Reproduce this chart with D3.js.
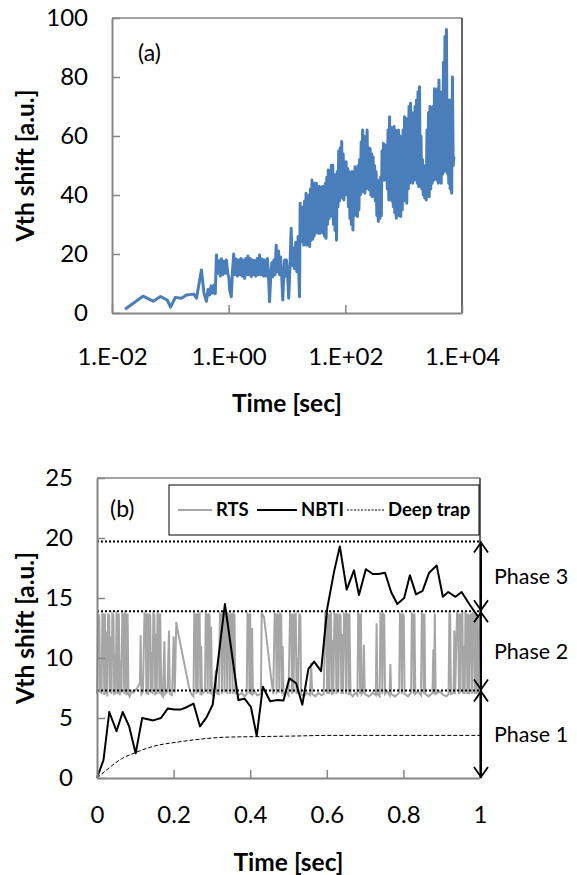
<!DOCTYPE html>
<html>
<head>
<meta charset="utf-8">
<script src="https://cdn.jsdelivr.net/npm/d3@7"></script>
<style>
  html, body { margin: 0; padding: 0; background: #fff; }
  svg { display: block; font-family: Lato, "Open Sans", sans-serif; }
</style>
</head>
<body>
<svg id="chart" width="577" height="875"></svg>
<script>
// ---- panel (a): Vth shift vs log time, [seconds, a.u.]
const stressTrace = [
  [0.0167,1.3],[0.0340,5.7],[0.0508,4.0],[0.0679,5.6],[0.0883,4.4],[0.101,2.0],[0.122,5.3],[0.155,5.0],
  [0.189,6.1],[0.252,6.4],[0.281,5.0],[0.341,14.6],[0.378,6.6],[0.416,4.0],[0.443,8.0],[0.470,6.1],
  [0.500,9.2],[0.526,6.7],[0.560,9.5],[0.590,6.5],
  [0.617,19.7],[0.646,13.5],[0.682,17.7],[0.716,12.5],[0.750,18.4],[0.794,13.0],[0.832,17.5],[0.871,13.5],
  [0.912,18.0],[0.973,13.0],[1.01,12.0],[1.04,7.8],[1.11,5.5],[1.16,14.0],[1.22,20.0],[1.27,13.0],
  [1.35,18.3],[1.41,12.5],[1.48,18.0],[1.54,13.0],[1.62,18.5],[1.70,12.5],[1.78,18.0],[1.88,11.7],
  [1.97,18.5],[2.07,13.0],[2.14,19.3],[2.24,13.0],[2.34,18.5],[2.44,12.3],[2.54,18.0],[2.66,13.0],
  [2.78,17.8],[2.92,12.5],[3.09,18.5],[3.24,13.0],[3.39,19.7],[3.59,13.0],[3.77,18.3],[3.98,12.5],
  [4.17,18.0],[4.41,12.5],[4.62,18.5],[4.84,12.0],[5.02,3.8],[5.25,12.0],[5.50,17.0],[5.71,12.3],
  [5.96,18.0],[6.24,13.0],[6.53,23.0],[6.84,14.0],[7.16,21.0],[7.45,13.0],[7.76,19.0],[8.13,12.0],
  [8.47,4.4],[8.81,13.0],[9.12,18.0],[9.42,12.5],[9.77,18.0],[10.2,13.0],[10.7,5.0],[11.2,15.0],
  [11.8,28.7],[12.3,16.0],[12.9,22.0],[13.4,15.0],[14.1,24.0],[14.7,14.0],[15.5,25.9],[16.0,12.0],
  [16.4,5.5],
  [16.8,37.2],[17.3,24],[17.8,35],[18.3,24.7],[18.9,36],[19.4,23],
  [20.0,38],[20.6,25],[21.2,40.6],[21.8,23],[22.5,38],[23.1,26],[23.8,40],[24.5,22.5],
  [25.2,42],[26.0,24.7],[26.8,45.1],[27.6,25],[28.4,42],[29.2,26],
  [30.1,44],[31.0,27],[31.9,44],[32.9,28],[33.8,42],[34.8,27],[35.9,43],[36.9,27],[38.0,42],[39.2,28],
  [40.3,42.8],[41.5,27],[42.8,43],[44.0,26],[45.4,44],[46.7,25.3],[48.1,46],[49.5,30],
  [51.0,48.5],[52.5,32],[54.1,47],[55.7,33],[57.4,50],[59.1,32.7],
  [60.8,50.2],[62.7,30],[64.5,47],[66.5,28],[68.4,46],[70.5,24.7],[72.6,48],[74.8,36],
  [77.0,55],[79.3,38],[81.7,56],[84.1,40],[86.6,58.1],[89.2,39],[91.9,54],[94.6,38.3],
  [97.5,51],[100,40],[103,51.3],[106,41],[110,49],
  [113,36],[116,48],[120,32],[123,47],[127,30],[131,48],[135,28.1],[139,46],
  [143,33],[147,49.6],[152,34],[156,48],[161,32.7],[166,50],[171,35],[176,52],
  [181,40],[187,58],[192,41],[198,62],[204,42],[210,60],[216,40.6],[223,58],[229,42],[236,62],[243,43],
  [251,56],[258,41.7],[266,55.8],[274,40],[282,54],[290,39.4],[299,53],[308,40],[317,50],[327,38],
  [337,48],[347,33],[357,45.1],[368,31],[379,44],[390,32],[402,46],[414,33],
  [426,55],[439,46],[452,57.5],[466,45],[480,56],[494,47.4],[509,57],
  [524,42],[540,62],[556,38.3],[573,66.5],[590,40],[608,63],[626,38],[644,60],[664,36],
  [684,63.2],[704,34],[725,62],[747,32.1],[770,60],[793,34],
  [816,62],[841,33],[866,60],[892,32.7],[919,58],[946,35],[975,62],
  [1004,38],[1034,66.5],[1065,40],[1097,64],[1130,37.2],[1164,66],[1199,42],
  [1235,70],[1272,44],[1310,71.1],[1349,46],[1390,68],[1431,44],[1474,66],
  [1519,45],[1564,70],[1611,46],[1660,72.2],[1709,44],[1761,75],[1813,42.8],[1868,76.7],[1924,45],[1981,60],
  [2041,42],[2102,52],[2165,40],[2230,49.6],[2297,39],[2366,50],[2437,38.3],
  [2510,62],[2585,40],[2663,68],[2743,39.4],[2825,70],[2910,42],[2997,66],[3087,44],
  [3180,70],[3275,45],[3373,76],[3475,46],[3579,72],
  [3686,45.1],[3797,76],[3911,44],[4028,79],[4149,46],[4274,75],[4402,44],
  [4534,72],[4670,47],[4810,85],[4954,48],[5103,93.7],[5256,50],[5414,96.1],[5576,47.4],
  [5744,72],[5916,44],[6093,72.2],[6276,42],[6465,70],
  [6659,40.6],[6858,80],[7064,50],[7276,53]
];
const topXTicks = [0.01, 1, 100, 10000];
const topXLabels = ["1.E-02", "1.E+00", "1.E+02", "1.E+04"];
const topYTicks = [0, 20, 40, 60, 80, 100];

// ---- panel (b): time [sec], Vth shift [a.u.]
const nbti = [
  [0.000,0.0],[0.017,1.5],[0.032,5.5],[0.051,3.9],[0.067,5.5],[0.084,4.3],[0.101,2.05],[0.118,5.0],
  [0.147,4.8],[0.167,5.0],[0.185,5.8],[0.202,5.7],[0.218,5.7],[0.234,5.9],[0.252,6.2],[0.269,4.3],
  [0.286,5.05],[0.302,6.1],[0.334,14.5],[0.352,10.4],[0.369,6.5],[0.386,6.6],[0.402,5.9],[0.417,3.5],
  [0.433,7.6],[0.452,6.4],[0.471,6.5],[0.487,6.45],[0.502,8.3],[0.520,7.9],[0.536,6.1],[0.552,9.1],
  [0.567,9.7],[0.585,8.9],[0.601,14.1],[0.619,17.2],[0.634,19.3],[0.652,15.7],[0.671,17.3],[0.684,15.25],
  [0.702,17.4],[0.720,17.0],[0.735,17.0],[0.752,17.1],[0.768,15.5],[0.784,14.5],[0.802,15.0],[0.817,16.9],
  [0.833,15.3],[0.850,15.6],[0.867,17.1],[0.887,17.7],[0.903,15.1],[0.917,15.5],[0.936,15.1],[0.952,15.5],
  [0.974,14.4],[0.996,13.4]
];
const deepTrap = [
  [0.000,0.0],[0.030,0.8],[0.064,1.6],[0.099,2.1],[0.151,2.67],[0.212,3.0],[0.273,3.25],[0.334,3.4],
  [0.420,3.45],[0.520,3.5],[0.600,3.55],[0.700,3.55],[0.850,3.55],[1.000,3.55]
];
const rts = [
  [0.000,7.0],[0.003,13.6],[0.006,13.5],[0.008,7.1],[0.010,9.5],[0.012,7.0],[0.014,13.7],[0.017,13.6],
  [0.019,6.9],[0.021,13.7],[0.023,7.0],[0.025,12.2],[0.027,6.8],[0.029,13.7],[0.032,13.5],[0.034,7.1],
  [0.036,11.8],[0.038,7.0],[0.040,13.7],[0.043,13.6],[0.045,6.9],[0.047,10.4],[0.049,7.0],[0.051,13.7],
  [0.053,13.6],[0.055,7.0],[0.057,13.7],[0.060,6.9],[0.062,9.8],[0.064,7.1],[0.066,13.7],[0.069,13.6],
  [0.071,7.0],[0.073,13.7],[0.075,13.6],[0.077,6.9],[0.080,13.7],[0.082,7.0],[0.085,6.8],[0.090,7.2],
  [0.095,7.1],[0.105,7.5],[0.112,7.9],[0.114,11.9],[0.116,7.0],[0.120,7.2],
  [0.124,13.7],[0.127,13.6],[0.129,7.0],[0.131,13.7],[0.134,6.9],[0.136,13.7],[0.139,13.5],[0.141,7.1],
  [0.143,10.5],[0.145,7.0],[0.147,13.7],[0.150,13.6],[0.152,6.9],[0.154,12.0],[0.156,7.0],[0.158,13.7],
  [0.161,13.6],[0.163,7.0],[0.165,13.7],[0.168,7.0],[0.172,6.8],[0.176,11.4],[0.178,7.0],[0.184,7.2],
  [0.188,12.3],[0.190,7.0],[0.196,6.9],[0.200,11.8],[0.203,7.1],[0.207,13.0],[0.210,12.4],[0.225,10.0],
  [0.240,7.6],[0.246,7.0],[0.252,6.8],[0.254,13.7],[0.257,13.6],[0.259,7.0],[0.261,13.7],[0.263,7.1],
  [0.265,13.6],[0.268,13.7],[0.270,6.9],[0.272,11.0],[0.274,7.0],[0.282,7.2],[0.284,13.7],[0.287,13.6],
  [0.289,7.0],[0.291,13.7],[0.294,13.5],[0.296,7.0],[0.298,12.6],[0.300,7.0],[0.305,6.8],[0.310,9.0],
  [0.312,7.1],[0.318,7.0],[0.321,13.7],[0.324,13.6],[0.326,7.0],[0.328,13.7],[0.331,13.6],[0.333,7.1],
  [0.335,13.7],[0.338,13.5],[0.340,7.0],[0.342,13.7],[0.345,13.6],[0.347,7.0],[0.349,13.7],[0.352,13.6],
  [0.354,7.0],[0.356,13.7],[0.359,13.6],[0.361,7.0],[0.364,7.2],[0.370,6.9],[0.378,7.1],[0.385,6.8],
  [0.391,7.0],[0.393,13.7],[0.396,13.6],[0.398,7.0],[0.400,13.7],[0.403,6.9],[0.405,12.5],[0.407,7.0],
  [0.412,7.2],[0.418,6.9],[0.428,7.0],[0.430,13.7],[0.433,13.6],[0.436,13.4],[0.445,11.0],[0.455,8.2],
  [0.460,7.0],[0.464,13.7],[0.467,13.6],[0.469,7.0],[0.471,13.7],[0.474,13.5],[0.476,7.1],[0.478,13.7],
  [0.481,13.6],[0.483,7.0],[0.485,11.0],[0.487,7.0],[0.494,7.2],[0.500,6.9],[0.504,13.7],[0.507,13.6],
  [0.509,7.0],[0.511,13.7],[0.513,7.1],[0.516,13.6],[0.519,13.7],[0.521,7.0],[0.523,10.0],[0.525,7.0],
  [0.528,13.7],[0.531,13.5],[0.533,7.0],[0.540,6.8],[0.548,7.1],[0.556,6.9],[0.559,9.6],[0.562,7.0],
  [0.570,6.8],[0.578,7.1],[0.586,6.9],[0.592,7.0],[0.596,13.7],[0.599,13.6],[0.601,7.0],[0.603,13.7],
  [0.606,7.0],[0.608,13.6],[0.611,13.7],[0.613,6.9],[0.615,11.5],[0.617,7.0],[0.620,13.7],[0.623,13.6],
  [0.625,7.0],[0.627,13.7],[0.630,7.1],[0.633,13.7],[0.636,13.5],[0.638,7.0],[0.640,12.0],[0.642,7.0],
  [0.645,13.7],[0.648,13.6],[0.650,7.0],[0.652,13.7],[0.655,13.6],[0.657,6.9],[0.659,13.7],[0.662,7.0],
  [0.668,6.8],[0.674,7.1],[0.680,6.9],[0.682,13.7],[0.685,13.6],[0.687,7.0],[0.689,13.7],[0.691,7.0],
  [0.695,7.2],[0.697,11.1],[0.699,7.0],[0.710,6.8],[0.720,7.1],[0.728,6.9],[0.730,12.9],[0.732,7.0],
  [0.738,6.8],[0.740,13.7],[0.743,13.6],[0.745,7.0],[0.747,13.7],[0.750,13.6],[0.752,7.0],[0.758,7.2],
  [0.764,6.9],[0.766,9.5],[0.768,7.0],[0.778,6.8],[0.789,7.1],[0.791,13.7],[0.794,13.6],[0.796,7.0],
  [0.798,13.7],[0.801,13.5],[0.803,7.0],[0.812,6.8],[0.820,7.1],[0.822,13.7],[0.825,13.6],[0.827,7.0],
  [0.829,13.7],[0.831,7.0],[0.838,7.2],[0.846,6.9],[0.848,13.7],[0.851,13.6],[0.853,7.0],[0.855,13.7],
  [0.857,7.0],[0.866,6.8],[0.876,7.1],[0.878,10.7],[0.880,7.0],[0.882,13.7],[0.884,7.0],[0.895,7.2],
  [0.905,6.9],[0.912,6.8],[0.918,7.0],[0.920,13.7],[0.922,13.6],[0.924,7.0],[0.931,7.1],[0.933,12.3],
  [0.935,7.0],[0.940,13.7],[0.943,13.6],[0.945,7.0],[0.947,13.7],[0.949,7.1],[0.951,13.6],[0.954,13.7],
  [0.956,7.0],[0.958,11.0],[0.960,7.0],[0.962,13.7],[0.965,13.6],[0.967,7.0],[0.969,13.7],[0.972,7.0],
  [0.974,13.5],[0.977,13.7],[0.979,7.0],[0.981,13.7],[0.984,13.6],[0.986,7.0],[0.988,13.7],[0.991,7.0],
  [0.994,13.6],[0.997,7.0]
];
const phaseLevels = [0, 7.3, 13.9, 19.7];
const phaseNames = ["Phase 1", "Phase 2", "Phase 3"];
const botXTicks = [0, 0.2, 0.4, 0.6, 0.8, 1];
const botYTicks = [0, 5, 10, 15, 20, 25];
const legendNames = ["RTS", "NBTI", "Deep trap"];

const svg = d3.select('#chart');
const axisGray = '#868686';

function styleAxis(g) {
    g.select('.domain').attr('stroke', axisGray).attr('stroke-width', 2);
    g.selectAll('.tick line').attr('stroke', axisGray).attr('stroke-width', 1.5);
    g.selectAll('.tick text').attr('font-size', 24).attr('fill', '#000')
        .attr('font-family', 'Lato, sans-serif');
}

function frame(x0, x1, y0, y1) {
    svg.append('line').attr('x1', x0).attr('x2', x1).attr('y1', y1).attr('y2', y1)
        .attr('stroke', axisGray).attr('stroke-width', 1.5);
    svg.append('line').attr('x1', x1).attr('x2', x1).attr('y1', y1).attr('y2', y0)
        .attr('stroke', '#333').attr('stroke-width', 1.5);
}

// ================= panel (a) =================
const mA = { left: 112, right: 115, top: 18, bottom: 562 };
const xA = d3.scaleLog().domain([0.01, 10000]).range([mA.left, 577 - mA.right]);
const yA = d3.scaleLinear().domain([0, 100]).range([875 - mA.bottom, mA.top]);

frame(xA.range()[0], xA.range()[1], yA.range()[0], yA.range()[1]);

svg.append('path')
    .datum(stressTrace)
    .attr('fill', 'none')
    .attr('stroke', '#4a7ebb')
    .attr('stroke-width', 3)
    .attr('stroke-linejoin', 'round')
    .attr('d', d3.line().x(d => xA(d[0])).y(d => yA(d[1])));

svg.append('g')
    .attr('transform', `translate(${mA.left},0)`)
    .call(d3.axisLeft(yA).tickValues(topYTicks).tickSizeInner(-8).tickSizeOuter(0).tickPadding(24))
    .call(styleAxis);

svg.append('g')
    .attr('transform', `translate(0,${yA(0)})`)
    .call(d3.axisBottom(xA).tickValues(topXTicks).tickFormat((d, i) => topXLabels[i])
        .tickSizeInner(-8).tickSizeOuter(0).tickPadding(35))
    .call(styleAxis);

svg.append('text').attr('x', 138).attr('y', 61).attr('font-size', 23).text('(a)');

svg.append('text')
    .attr('x', (xA.range()[0] + xA.range()[1]) / 2)
    .attr('y', 412)
    .attr('text-anchor', 'middle')
    .attr('font-size', 24.5).attr('font-weight', 'bold')
    .text('Time [sec]');

svg.append('text')
    .attr('transform', `translate(34,${(yA.range()[0] + yA.range()[1]) / 2}) rotate(-90)`)
    .attr('text-anchor', 'middle')
    .attr('font-size', 24.5).attr('font-weight', 'bold')
    .text('Vth shift [a.u.]');

// ================= panel (b) =================
const mB = { left: 97, right: 97, top: 478, bottom: 97 };
const xB = d3.scaleLinear().domain([0, 1]).range([mB.left, 577 - mB.right]);
const yB = d3.scaleLinear().domain([0, 25]).range([875 - mB.bottom, mB.top]);

frame(xB.range()[0], xB.range()[1], yB.range()[0], yB.range()[1]);

const lineB = d3.line().x(d => xB(d[0])).y(d => yB(d[1]));

svg.append('path').datum(rts)
    .attr('fill', 'none').attr('stroke', '#a6a6a6').attr('stroke-width', 2)
    .attr('d', lineB);

svg.append('g').selectAll('line')
    .data(phaseLevels.slice(1))
    .join('line')
    .attr('x1', xB(0)).attr('x2', xB(1))
    .attr('y1', d => yB(d)).attr('y2', d => yB(d))
    .attr('stroke', '#000').attr('stroke-width', 2).attr('stroke-dasharray', '2,2');

svg.append('path').datum(deepTrap)
    .attr('fill', 'none').attr('stroke', '#000').attr('stroke-width', 1)
    .attr('stroke-dasharray', '4,2')
    .attr('d', d3.line().x(d => xB(d[0])).y(d => yB(d[1])).curve(d3.curveMonotoneX));

svg.append('path').datum(nbti)
    .attr('fill', 'none').attr('stroke', '#000').attr('stroke-width', 2)
    .attr('stroke-linejoin', 'round')
    .attr('d', lineB);

svg.append('g')
    .attr('transform', `translate(${mB.left},0)`)
    .call(d3.axisLeft(yB).tickValues(botYTicks).tickSizeInner(-8).tickSizeOuter(0).tickPadding(24))
    .call(styleAxis);

svg.append('g')
    .attr('transform', `translate(0,${yB(0)})`)
    .call(d3.axisBottom(xB).tickValues(botXTicks).tickFormat(d3.format('~g'))
        .tickSizeInner(-8).tickSizeOuter(0).tickPadding(28))
    .call(styleAxis);

// phase arrows on the right edge
const arrowX = xB(1) + 1;
svg.append('line')
    .attr('x1', arrowX).attr('x2', arrowX)
    .attr('y1', yB(phaseLevels[0])).attr('y2', yB(phaseLevels[3]))
    .attr('stroke', '#000').attr('stroke-width', 2);

const heads = g => g.selectAll('path')
    .data(d3.range(3))
    .join('path')
    .attr('fill', 'none').attr('stroke', '#000').attr('stroke-width', 1.8)
    .attr('d', i => {
        const lo = yB(phaseLevels[i]) - 1, hi = yB(phaseLevels[i + 1]) + 1;
        return `M${arrowX - 7},${hi + 10}L${arrowX},${hi}L${arrowX + 7},${hi + 10}` +
               `M${arrowX - 7},${lo - 10}L${arrowX},${lo}L${arrowX + 7},${lo - 10}`;
    });
svg.append('g').call(heads);

svg.append('g').selectAll('text')
    .data(phaseNames)
    .join('text')
    .attr('x', 494)
    .attr('y', (d, i) => (yB(phaseLevels[i]) + yB(phaseLevels[i + 1])) / 2 + 8)
    .attr('font-size', 21.5)
    .text(d => d);

svg.append('text').attr('x', 110).attr('y', 517).attr('font-size', 23).text('(b)');

// legend
const legend = svg.append('g');
legend.append('rect')
    .attr('x', 169).attr('y', 485).attr('width', 310).attr('height', 50)
    .attr('fill', '#fff').attr('stroke', '#000').attr('stroke-width', 1);
const legendStyle = [
    { x: 178, w: 34, stroke: '#a6a6a6', width: 2, dash: null },
    { x: 257, w: 40, stroke: '#000', width: 2, dash: null },
    { x: 347, w: 37, stroke: '#000', width: 1, dash: '2,1.5' }
];
legendNames.forEach((name, i) => {
    const s = legendStyle[i];
    legend.append('line')
        .attr('x1', s.x).attr('x2', s.x + s.w).attr('y1', 510).attr('y2', 510)
        .attr('stroke', s.stroke).attr('stroke-width', s.width)
        .attr('stroke-dasharray', s.dash);
    legend.append('text')
        .attr('x', s.x + s.w + 4).attr('y', 516)
        .attr('font-size', 18.5).attr('font-weight', 'bold')
        .text(name);
});

svg.append('text')
    .attr('x', (xB.range()[0] + xB.range()[1]) / 2)
    .attr('y', 871)
    .attr('text-anchor', 'middle')
    .attr('font-size', 24.5).attr('font-weight', 'bold')
    .text('Time [sec]');

svg.append('text')
    .attr('transform', `translate(34,${(yB.range()[0] + yB.range()[1]) / 2}) rotate(-90)`)
    .attr('text-anchor', 'middle')
    .attr('font-size', 24.5).attr('font-weight', 'bold')
    .text('Vth shift [a.u.]');
</script>
</body>
</html>
